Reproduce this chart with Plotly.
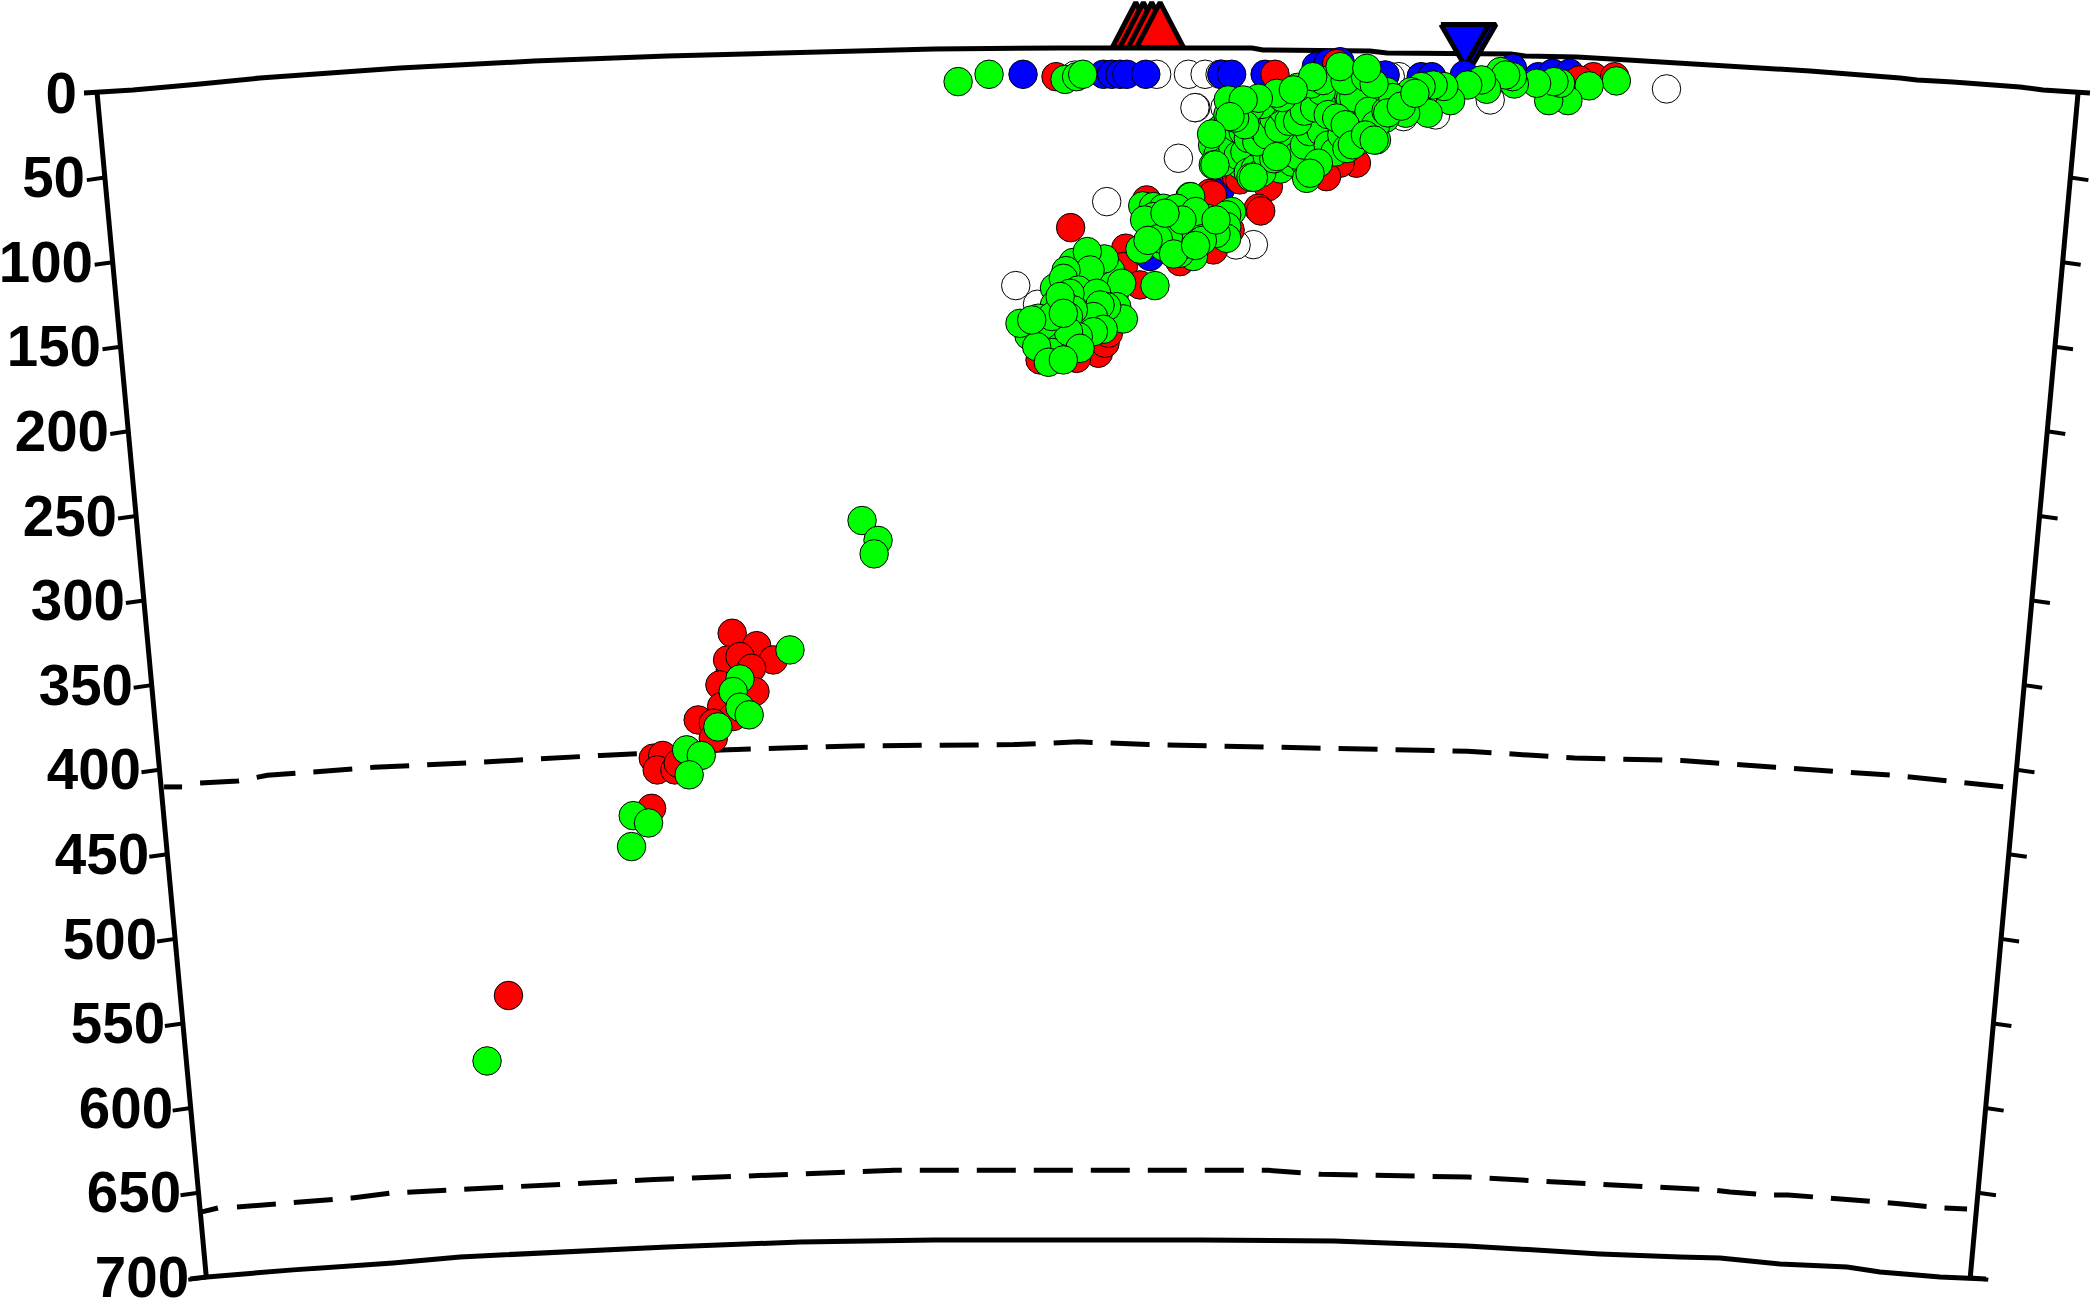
import plotly.graph_objects as go

# --- earthquake hypocentres: section distance (km) and depth (km) ---
white_x = [17,65.1,83.8,93.6,102.4,88.1,105.3,87.6,77.9,35.7,207.6,202.5,261.3,229.2,210.3,365,-17.8,-5,122,111.8]
white_d = [14.8,14.3,14.3,14.3,14.3,33.9,33.9,33.9,63.7,89.2,15.7,15.7,29.4,38.2,39.2,22.9,138.6,149.6,114.5,114.7]

blue_x = [-13.5,33.8,38.7,43.6,47.5,58.7,103.4,109.2,128.9,159,166,173,199.5,220.7,226.9,246.1,274.4,289.6,298,308,101.3,102.4,61.2,-185.7]
blue_d = [14.3,14.3,14.3,14.3,14.3,14.3,14.3,14.3,14.3,9.8,7.9,6.9,14.7,15.7,15.7,14.7,10.8,15.7,13.7,13.7,82.3,82.3,121.5,364.7]

red_x = [5.9,134.7,171,322,334.5,313.7,182.6,173,165,130.8,110.2,112.1,114,141.5,96.4,124.9,14.5,126.3,97.9,59.2,46.9,45.5,55.3,78.8,98.5,108.3,30.8,34.7,36.7,18,-3.5,6.3,
         -184.6,-170.2,-187.3,-180,-160.4,-173.2,-191.8,-171.2,-190.8,-184,-204.6,-195.7,-195.7,-231,-225.5,-228.7,-218.3,-216.3,-232,-316.2]
red_d = [15.7,14.3,8,15.7,15.7,17.6,66.6,66.6,74.5,80.4,72.5,74.5,76.4,66.6,84.3,93.1,104.5,94.7,85.3,88.2,116.6,127.4,138.2,124.5,117.6,105.9,178.4,172.5,166.6,181.4,182.3,172.5,
         343.1,350.4,358.8,356.8,358.8,363.7,373.5,377.4,386.2,392.1,394.1,396,404.9,416.6,415,423.5,423.5,419.6,446.1,556.2]

green_x = [-51.7,-33.5,11.2,18,21.6,
           335.5,319.5,307,295.7,302.7,298.8,288.6,275.5,274.4,267.4,270.4,259.2,256.2,248.1,238,234,227.8,220.7,214.7,224.8,211.6,200.4,199.5,194.4,
           105,110,114,118,121,124,126,128,131,133,135,136,138,141,142,144,145,147,149,150,151,153,155,156,157,159,160,161,163,164,165,167,168,169,170,172,173,174,175,176,178,179,180,181,182,184,185,186,187,189,190,192,193,196,198,
           128,122,116,112,125,132,138,145,152,103,108,115,120,99,102,107,
           103,105,106,104,122,123,121,124,120,152,154,155,153,151,166,168,169,167,178,180,179,181,
           98,101,104,110,113,117,119,123,127,130,134,137,140,143,146,148,152,155,158,162,166,170,174,177,183,186,190,194,200,204,112,116,119,124,127,130,134,137,140,143,146,148,152,158,162,166,171,176,130,127,120,117,111,139,148,156,163,176,188,193,
           173,188.7,156.9,135.7,145.5,124.9,107.2,116,108.2,97.4,98.4,120.6,160.2,153.3,155.3,135.7,180.2,187.9,193,201,209,217,
           84.7,99.4,122,85.1,56.9,63.2,69,76.9,109.2,106.3,94.5,106.3,106.3,96.5,86.7,78.8,76.9,69,63.2,55.3,84.7,91.6,74.9,68,63.2,82.8,78.8,
           58,72,88,100,92,80,66,60,75,88,100,70,
           5,15,22,30,37,25,18,5,0,6,12,24,30,36,22,14,40,-10,-2,4,38,30,16,
           34.3,24.3,64.1,44.5,25.9,11.8,10.2,19,29.8,14.1,10.2,41.6,45.5,35.7,31.8,27.9,16.1,13.2,33.7,27.9,19,13.2,20,-15.3,-4.5,-1.5,3.4,-5.5,1.4,10.2,-8.4,8.3,10.2,
           -108.2,-98.8,-101.1,
           -150.6,-180,-184,-180,-174.6,-193,-211.4,-202.8,-209.9,-242.8,-233.8,-243.8,-328.8]
green_d = [18.6,14.3,17.3,15.7,14.3,
           18.2,21.1,29.8,29.8,19.6,18.6,19.6,20,15.7,12.7,14.7,23.1,17.6,20.6,29.8,21.5,20.6,21.5,24.5,37.2,37.2,24.5,40.2,52.9,
           44,50,41,55,47,36,60,52,43,34,57,49,40,63,54,31,46,37,58,27,50,42,33,62,54,24,46,38,29,58,50,20,42,34,25,54,46,16,38,30,22,50,42,34,18,26,46,38,30,22,42,34,26,38,30,
           38,42,36,34,66,68,70,66,66,60,64,68,64,52,47,38,
           50,52,49,54,39,41,42,38,40,31,32,30,29,33,28,30,28,31,27,26,29,28,
           56,62,66,58,62,60,72,70,72,62,64,60,56,60,54,62,56,48,42,48,56,60,50,58,54,50,36,44,36,28,46,48,52,54,46,50,40,46,36,42,30,42,36,34,24,38,40,44,30,32,34,44,40,28,22,20,18,18,16,20,
           9.8,10.8,15.7,25.5,23.5,28.4,29.4,29.4,39.2,49.4,67.6,74.9,66.6,75.5,72.5,62.7,55.8,50,53,37,33,25.5,
           86.2,67.6,74.9,86.3,91.7,92.1,93.1,93.1,95,97,99,103.9,110.8,106.8,121.5,119.6,111.7,115.7,105.9,117.2,111.7,102.9,103.9,101,98,107.8,115.7,
           100,110,95,108,112,100,111,112,120,115,100,96,
           140,132,130,136,140,146,150,150,165,162,172,158,162,158,152,137,145,168,170,178,130,125,125,
           122.9,118.6,138.6,137.2,129.4,129.8,134.3,141.2,143.1,143.1,149,151,158.2,151,150,156.8,152.9,156.8,164.3,165.7,168.6,165.7,175.5,160.8,157.8,161.8,156.8,174.5,183.7,182.3,158.8,145,154.9,
           276.8,288.5,296.4,
           352.9,370,377.4,386.6,391.1,398.2,411.7,415,426.4,450.4,454.7,468.6,594.7]

# --- volcanoes and seismic station (apex distance, km) ---
volcano_x = [52.8, 57.3, 62.2, 67.1]
station_x = [250.5, 246.5]

# --- depth ticks ---
tick_depths = [0,50,100,150,200,250,300,350,400,450,500,550,600,650,700]
tick_labels = [str(v) for v in tick_depths]

# --- section frame (distance, depth in km along the arcs) ---
top_x = [-565.9,-537.1,-497.6,-462.4,-380,-301.2,-222.9,-144.7,-65.9,8.2,121.2,127.6,190.6,200.6,241.2,273.5,281.8,312.4,342.4,368.8,395.3,449.4,502.4,512.4,533.5,553.5,572.9,586.5,601.2,614.1]
top_d = [25.3,23.5,20,16.5,10.6,6.5,3.5,1.2,-0.6,-1.2,-1.2,0,0.6,1.8,1.8,2.4,3.5,4.1,5.9,7.6,8.8,12.4,16.5,17.6,18.8,20,21.8,23.5,24.1,25.3]
bot_x = [-503.5,-493.5,-442.9,-384.1,-344.7,-285.9,-222.9,-144.7,-65.9,90.6,169.4,247.6,325.9,372.9,396.5,431.8,471.2,490.6,525.9,552.9]
bot_d = [722.9,721.8,717.6,713.5,710,707.1,704.1,701.2,700,700,700.6,703.5,708.2,710,710.6,714.1,715.9,718.8,721.8,722.9]

# --- 410 km and 660 km discontinuities ---
d410_start_x = [-518.8,-508.2]
d410_start_d = [433.5,433.5]
d410_x = [-497.6,-475.3,-458,-395.5,-333,-262,-191,-113,-19,19,60,138,248,311,374,429,499,566]
d410_d = [431.2,430,426.7,422,419,415,411.8,409.4,408.6,407,408.6,410.2,412.5,416.5,418,422,426.7,433.7]
d660_start_x = [-496.5,-487.1]
d660_start_d = [683.5,681.2]
d660_x = [-475.9,-452.4,-441.8,-419.4,-408.2,-385.3,-374.7,-351.8,-340.6,-317.6,-277.7,-230.6,-191.4,-144.3,-89.3,-42.2,130.5,161.9,209,248.2,303.2,349.4,391.8,402.4,424.7,436.5,459.4,470,492.4,503.5,527,541.8]
d660_d = [680.6,678.8,677.6,675.9,675.3,672.4,671.8,671.2,670.6,668.8,666.9,664.5,663,661.4,659,659,659,661.4,662.2,663,666.1,668.2,670.6,671.8,673.5,673.5,675.3,675.9,677.6,678.8,681.2,681.8]

# flat section-plane scale: km per page extent
X_RANGE = [-615.3, 615.3]
Y_RANGE = [736.5, -29.4]

BLACK = "#000000"
fig = go.Figure()

def add_line(x, y, width=5, dash=None):
    fig.add_trace(go.Scatter(x=x, y=y, mode="lines", hoverinfo="skip", showlegend=False,
                             line=dict(color=BLACK, width=width, dash=dash, shape="linear")))

# frame
add_line(top_x, top_d)
add_line(bot_x, bot_d)
left_edge = [-558.2 + 4.59 * v / 50 for v in tick_depths]
right_edge = [607.1 - 4.53 * v / 50 for v in tick_depths]
edge_depth = [25.3 + 49.76 * v / 50 for v in tick_depths]
add_line(left_edge, edge_depth)
add_line(right_edge, edge_depth)
for xl, xr, d in zip(left_edge[1:], right_edge[1:], edge_depth[1:]):
    add_line([xl - 10.6, xl], [d + 1.5, d], width=4)
    add_line([xr, xr + 10.6], [d, d + 1.5], width=4)

# discontinuities
add_line(d410_start_x, d410_start_d)
add_line(d410_x, d410_d, dash="39px,18px")
add_line(d660_start_x, d660_start_d)
add_line(d660_x, d660_d, dash="39px,18px")

def triangle(apex_x, apex_d, base_d, half_w, color):
    fig.add_trace(go.Scatter(x=[apex_x - half_w, apex_x + half_w, apex_x, apex_x - half_w],
                             y=[base_d, base_d, apex_d, base_d],
                             mode="lines", fill="toself", fillcolor=color, hoverinfo="skip",
                             showlegend=False, cliponaxis=False, line=dict(color=BLACK, width=5)))

for vx in volcano_x:
    triangle(vx, -28.0, -1.5, 13.8, "#ff0000")
for sx in station_x:
    triangle(sx, 9.5, -15.0, 14.2, "#0000ff")

def quakes(x, y, color):
    fig.add_trace(go.Scatter(x=x, y=y, mode="markers", showlegend=False, hoverinfo="skip",
                             marker=dict(size=28.5, color=color, line=dict(color=BLACK, width=1))))

quakes(white_x, white_d, "#ffffff")
quakes(blue_x, blue_d, "#0000ff")
quakes(red_x, red_d, "#ff0000")
quakes(green_x, green_d, "#00ff00")

# depth labels
fig.add_trace(go.Scatter(
    x=[-570 + 4.71 * v / 50 for v in tick_depths],
    y=[28.6 + 49.76 * v / 50 for v in tick_depths],
    text=tick_labels, mode="text", textposition="middle left", showlegend=False, hoverinfo="skip",
    cliponaxis=False,
    textfont=dict(family="Liberation Sans", size=56.5, color=BLACK, weight="bold")))

fig.update_xaxes(range=X_RANGE, visible=False, fixedrange=True)
fig.update_yaxes(range=Y_RANGE, visible=False, fixedrange=True)
fig.update_layout(width=2092, height=1302, margin=dict(l=0, r=0, t=0, b=0),
                  paper_bgcolor="white", plot_bgcolor="white", showlegend=False)
fig.write_html("out.html", config={"displayModeBar": False},
               post_script="document.body.style.margin='0';document.body.style.overflow='hidden';")
